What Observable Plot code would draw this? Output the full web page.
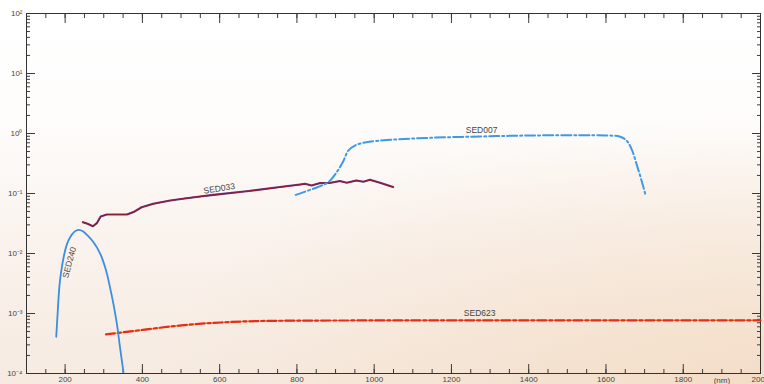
<!DOCTYPE html>
<html><head><meta charset="utf-8">
<script src="https://cdn.jsdelivr.net/npm/d3@7"></script>
<script src="https://cdn.jsdelivr.net/npm/@observablehq/plot@0.6"></script>
<style>
html,body{margin:0;padding:0;background:#fff;overflow:hidden;}
#chart svg{display:block;}
</style></head><body><div id="chart"></div>
<script>
// ---- data (wavelength in nm, value on log scale) ----
const sed240Nm  = [177, 180, 185, 189, 198, 205, 213, 223, 234, 246, 258, 273, 291, 306, 316, 325, 334, 342, 351];
const sed240Val = [4.1e-4, 8.7e-4, 2.75e-3, 4.6e-3, 9.9e-3, 0.0145, 0.0187, 0.0227, 0.0248, 0.0235, 0.020, 0.0155, 0.0099, 0.0052, 0.00275, 0.00145, 6.7e-4, 2.75e-4, 1.05e-4];

const sed033Nm  = [246, 258, 272, 282, 292, 308, 329, 360, 377, 398, 428, 472, 515, 549, 584, 670, 756, 808, 821, 838, 860, 885, 911, 929, 954, 972, 989, 1015, 1049];
const sed033Val = [0.0333, 0.0313, 0.0285, 0.032, 0.0414, 0.0447, 0.0447, 0.0447, 0.049, 0.059, 0.0673, 0.0764, 0.0835, 0.089, 0.095, 0.109, 0.128, 0.141, 0.145, 0.136, 0.149, 0.150, 0.161, 0.151, 0.165, 0.157, 0.169, 0.151, 0.128];

const sed007Nm  = [797, 842, 881, 903, 920, 933, 950, 980, 1041, 1144, 1273, 1402, 1532, 1601, 1635, 1653, 1666, 1679, 1692, 1702];
const sed007Val = [0.095, 0.12, 0.154, 0.227, 0.345, 0.52, 0.63, 0.717, 0.784, 0.848, 0.891, 0.926, 0.937, 0.926, 0.891, 0.764, 0.555, 0.312, 0.165, 0.096];

const sed623Nm  = [306, 400, 497, 584, 670, 760, 900, 1200, 1600, 2000];
const sed623Val = [4.5e-4, 5.3e-4, 6.4e-4, 7.0e-4, 7.45e-4, 7.6e-4, 7.65e-4, 7.7e-4, 7.7e-4, 7.7e-4];

const seriesLabels = ["SED240", "SED033", "SED007", "SED623"];
const labelNm      = [211, 599, 1278, 1273];
const labelVal     = [0.0071, 0.121, 1.12, 1.0e-3];
const labelAngle   = [-75, -9, 0, 0];

const xMajorTicks = [200, 400, 600, 800, 1000, 1200, 1400, 1600, 1800, 2000];
const xTickLabels = ["200", "400", "600", "800", "1000", "1200", "1400", "1600", "1800", "2000"];
const xMinorTicks = d3.range(100, 2001, 50);
const yMajorTicks = [1e-4, 1e-3, 1e-2, 1e-1, 1e0, 1e1, 1e2];
const yTickLabels = ["10⁻⁴", "10⁻³", "10⁻²", "10⁻¹", "10⁰", "10¹", "10²"];
const yMinorTicks = yMajorTicks.slice(0, -1).flatMap(d => [2,3,4,5,6,7,8,9].map(k => k * d));
const unitLabel = "(nm)";

const zip = (xs, ys) => xs.map((x, i) => ({x, y: ys[i]}));
const s240 = zip(sed240Nm, sed240Val);
const s033 = zip(sed033Nm, sed033Val);
const s007 = zip(sed007Nm, sed007Val);
const s623 = zip(sed623Nm, sed623Val);
const labels = seriesLabels.map((t, i) => ({t, x: labelNm[i], y: labelVal[i], r: labelAngle[i]}));

const tickColor = "#3a3a3a";
const font = "Liberation Sans, Arial, sans-serif";

const chart = Plot.plot({
  width: 764,
  height: 384,
  marginLeft: 26,
  marginRight: 4,
  marginTop: 13,
  marginBottom: 11,
  style: {
    background: "radial-gradient(ellipse 80% 70% at 100% 100%, rgba(240,205,168,0.45), rgba(240,205,168,0) 100%), linear-gradient(180deg, #ffffff 0%, #fefdfc 30%, #faf3ee 60%, #f6eae0 100%)",
    fontFamily: font,
    overflow: "visible"
  },
  x: {type: "linear", domain: [100, 2000], axis: null},
  y: {type: "log", domain: [1e-4, 1e2], axis: null},
  marks: [
    Plot.axisX(xMinorTicks, {anchor: "bottom", tickSize: 4, insetBottom: 4, tickFormat: null, text: null, label: null, stroke: tickColor}),
    Plot.axisX(xMajorTicks, {anchor: "bottom", tickSize: 9, insetBottom: 9, tickFormat: null, text: null, label: null, stroke: tickColor}),
    Plot.axisX(xMinorTicks, {anchor: "top", tickSize: 4, insetTop: 4, tickFormat: null, text: null, label: null, stroke: tickColor}),
    Plot.axisX(xMajorTicks, {anchor: "top", tickSize: 9, insetTop: 9, tickFormat: null, text: null, label: null, stroke: tickColor}),
    Plot.axisX(xMajorTicks, {anchor: "bottom", tickSize: 0, tickPadding: 3, tickFormat: (d) => xTickLabels[xMajorTicks.indexOf(d)], label: null, fontSize: 8, fill: "#444"}),
    Plot.axisY(yMinorTicks, {anchor: "left", tickSize: 4, insetLeft: 4, tickFormat: null, text: null, label: null, stroke: tickColor}),
    Plot.axisY(yMajorTicks, {anchor: "left", tickSize: 9, insetLeft: 9, tickFormat: null, text: null, label: null, stroke: tickColor}),
    Plot.axisY(yMinorTicks, {anchor: "right", tickSize: 4, insetRight: 4, tickFormat: null, text: null, label: null, stroke: tickColor}),
    Plot.axisY(yMajorTicks, {anchor: "right", tickSize: 9, insetRight: 9, tickFormat: null, text: null, label: null, stroke: tickColor}),
    Plot.axisY(yMajorTicks, {anchor: "left", tickSize: 0, tickPadding: 4, tickFormat: (d) => yTickLabels[yMajorTicks.indexOf(d)], label: null, fontSize: 8, fill: "#444"}),
    Plot.frame({stroke: "#333", strokeWidth: 1}),
    Plot.text([unitLabel], {x: 1900, y: 1e-4, text: d => d, dy: 7, fontSize: 8, fill: "#444"}),
    Plot.line(s623, {x: "x", y: "y", stroke: "#f4a41c", strokeWidth: 1.2, curve: "basis"}),
    Plot.line(s623, {x: "x", y: "y", stroke: "#e82a1a", strokeWidth: 2.2, strokeDasharray: "9,3,3,3", curve: "basis"}),
    Plot.line(s240, {x: "x", y: "y", stroke: "#3b8ee0", strokeWidth: 1.8, curve: "catmull-rom"}),
    Plot.line(s033, {x: "x", y: "y", stroke: "#6a3c7c", strokeWidth: 2.1, curve: "linear"}),
    Plot.line(s033, {x: "x", y: "y", stroke: "#8e1a3a", strokeWidth: 1.2, curve: "linear"}),
    Plot.line(s007, {x: "x", y: "y", stroke: "#3d9ae8", strokeWidth: 2, strokeDasharray: "10,3,2,3", curve: "catmull-rom"}),
    Plot.text(labels, {x: "x", y: "y", text: "t", rotate: "r", fontSize: 8.5, fill: "#444"})
  ]
});
document.getElementById("chart").appendChild(chart);
</script>
</body></html>
